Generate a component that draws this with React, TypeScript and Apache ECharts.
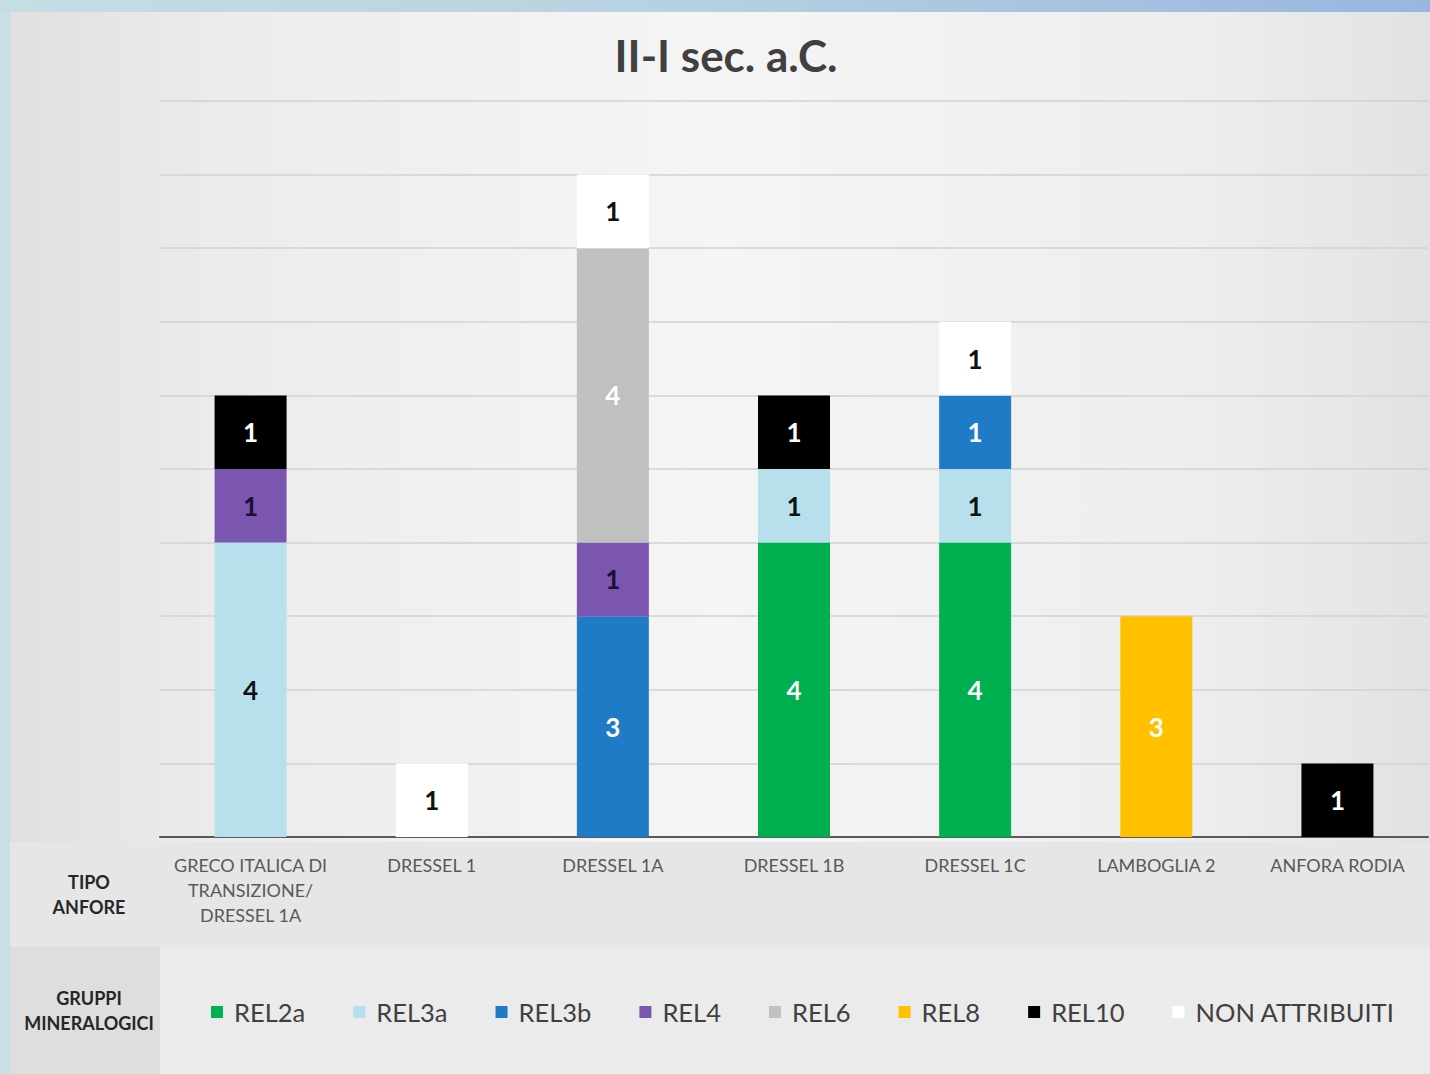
import React, { useEffect, useRef } from "react";
import * as echarts from "echarts";

const categories = [
  "GRECO ITALICA DI\nTRANSIZIONE/\nDRESSEL 1A",
  "DRESSEL 1",
  "DRESSEL 1A",
  "DRESSEL 1B",
  "DRESSEL 1C",
  "LAMBOGLIA 2",
  "ANFORA RODIA",
];

const seriesNames = ["REL2a", "REL3a", "REL3b", "REL4", "REL6", "REL8", "REL10", "NON ATTRIBUITI"];
const rel2a = [null, null, null, 4, 4, null, null];
const rel3a = [4, null, null, 1, 1, null, null];
const rel3b = [null, null, 3, null, 1, null, null];
const rel4 = [1, null, 1, null, null, null, null];
const rel6 = [null, null, 4, null, null, null, null];
const rel8 = [null, null, null, null, null, 3, null];
const rel10 = [1, null, null, 1, null, null, 1];
const nonAttribuiti = [null, 1, 1, null, 1, null, null];
const seriesData = [rel2a, rel3a, rel3b, rel4, rel6, rel8, rel10, nonAttribuiti];

const seriesColors = ["#00b050", "#b7e0ec", "#1f7bc6", "#7b56b0", "#c0c0c0", "#ffc000", "#000000", "#ffffff"];
const labelColors = ["#ffffff", "#111111", "#ffffff", "#1a1030", "#ffffff", "#ffffff", "#ffffff", "#111111"];

const FONT = "Lato, 'Open Sans', sans-serif";

export default function App() {
  const ref = useRef<HTMLDivElement>(null);
  useEffect(() => {
    document.body.style.margin = "0";
    const chart = echarts.init(ref.current!, null, { renderer: "svg" });
    const option: any = {
      animation: false,
      textStyle: { fontFamily: FONT },
      graphic: [
        { type: "rect", z: -100, shape: { x: 0, y: 0, width: 1430, height: 1074 }, style: { fill: "#c9dfe6" } },
        {
          type: "rect", z: -99, shape: { x: 0, y: 0, width: 1430, height: 12 },
          style: {
            fill: new echarts.graphic.LinearGradient(0, 0, 1, 0, [
              { offset: 0, color: "#c6dde4" },
              { offset: 0.5, color: "#b5d0e0" },
              { offset: 1, color: "#98b6df" },
            ]),
          },
        },
        {
          type: "rect", z: -98, shape: { x: 10, y: 12, width: 1420, height: 1062 },
          style: {
            fill: new echarts.graphic.LinearGradient(0, 0, 1, 0, [
              { offset: 0, color: "#e0e0e0" },
              { offset: 0.15, color: "#ececec" },
              { offset: 0.5, color: "#f5f5f5" },
              { offset: 0.85, color: "#ededed" },
              { offset: 1, color: "#e2e2e2" },
            ]),
          },
        },
        { type: "rect", z: -97, shape: { x: 10, y: 842, width: 1420, height: 105 }, style: { fill: "#e6e6e6" } },
        { type: "rect", z: -97, shape: { x: 10, y: 947, width: 150, height: 127 }, style: { fill: "#dedede" } },
        { type: "rect", z: -97, shape: { x: 160, y: 947, width: 1270, height: 127 }, style: { fill: "#ebebeb" } },
        {
          type: "text", z: 10, x: 726, y: 55,
          style: { text: "II-I sec. a.C.", fontSize: 44, fontWeight: "bold", fill: "#404040", fontFamily: FONT, textAlign: "center", textVerticalAlign: "middle" },
        },
        {
          type: "text", z: 10, x: 89, y: 894,
          style: { text: "TIPO\nANFORE", fontSize: 18, lineHeight: 25, fontWeight: "bold", fill: "#262626", fontFamily: FONT, textAlign: "center", textVerticalAlign: "middle" },
        },
        {
          type: "text", z: 10, x: 89, y: 1010,
          style: { text: "GRUPPI\nMINERALOGICI", fontSize: 18, lineHeight: 25, fontWeight: "bold", fill: "#262626", fontFamily: FONT, textAlign: "center", textVerticalAlign: "middle" },
        },
      ],
      legend: {
        data: seriesNames,
        left: 206,
        top: 994,
        icon: "rect",
        itemWidth: 12,
        itemHeight: 12,
        itemGap: 48,
        textStyle: { fontSize: 25.5, color: "#404040", fontFamily: FONT, padding: [0, 0, 0, 6] },
      },
      grid: { left: 160, right: 2, top: 101, bottom: 237, containLabel: false },
      xAxis: {
        type: "category",
        data: categories,
        axisTick: { show: false },
        axisLine: { lineStyle: { color: "#595959", width: 2 } },
        axisLabel: { fontSize: 18, color: "#595959", lineHeight: 25, margin: 15, interval: 0, fontFamily: FONT },
      },
      yAxis: {
        type: "value",
        min: 0,
        max: 10,
        interval: 1,
        axisLabel: { show: false },
        axisLine: { show: false },
        axisTick: { show: false },
        splitLine: { lineStyle: { color: "#d2d2d2", width: 1.5 } },
      },
      series: seriesNames.map((name, i) => ({
        name,
        type: "bar",
        stack: "total",
        barWidth: 72,
        data: seriesData[i],
        itemStyle: { color: seriesColors[i] },
        label: {
          show: true,
          position: "inside",
          fontSize: 26,
          fontWeight: "bold",
          color: labelColors[i],
          fontFamily: FONT,
        },
      })),
    };
    chart.setOption(option);
    return () => chart.dispose();
  }, []);
  return <div ref={ref} style={{ width: 1430, height: 1074 }} />;
}
